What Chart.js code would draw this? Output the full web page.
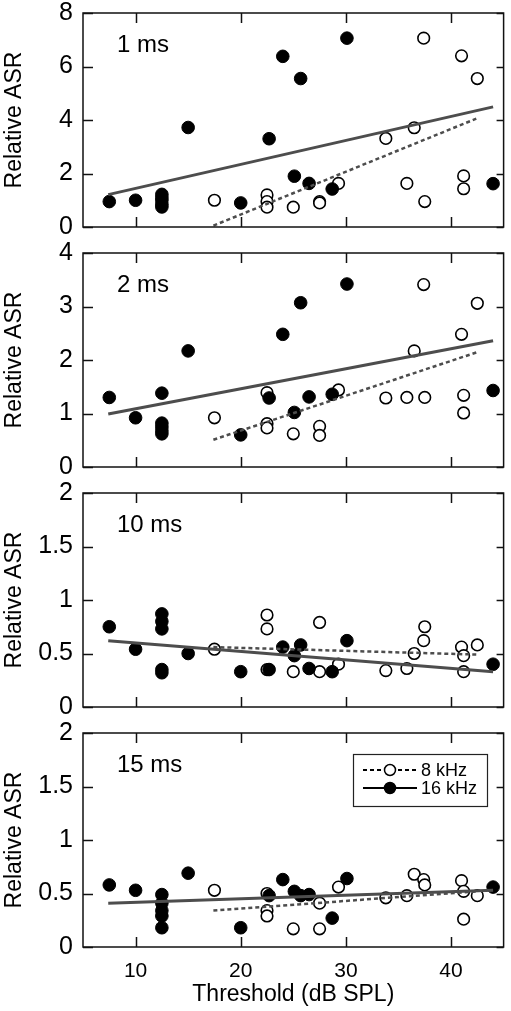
<!DOCTYPE html>
<html>
<head>
<meta charset="utf-8">
<script src="https://cdn.jsdelivr.net/npm/chart.js@4.4.0/dist/chart.umd.min.js"></script>
<style>
  html, body { margin: 0; padding: 0; background: #fff; }
  #wrap { position: relative; width: 511px; height: 1011px; }
  #wrap canvas { position: absolute; left: 0; }
</style>
</head>
<body>
<div id="wrap"></div>
<script>
// x ticks and panel labels
const xTicks = [10, 20, 30, 40];
const panelLabels = ['1 ms', '2 ms', '10 ms', '15 ms'];
const yTicks1ms = [0, 2, 4, 6, 8];
const yTicks2ms = [0, 1, 2, 3, 4];
const yTicks10ms = [0, 0.5, 1, 1.5, 2];
const yTicks15ms = [0, 0.5, 1, 1.5, 2];

// thresholds (dB SPL) of each animal
const thr8 = [17.5, 22.5, 22.5, 22.5, 25, 27.5, 27.5, 29.3, 33.8, 35.8, 36.5, 37.4, 37.5, 41.0, 41.2, 41.2, 42.5];
const thr16 = [7.5, 10, 12.5, 12.5, 12.5, 12.5, 12.5, 15, 20, 22.7, 24, 25.1, 25.7, 26.5, 28.7, 30.1, 44];

// relative ASR, 8 kHz
const asr8_1ms = [1.0, 1.2, 0.95, 0.74, 0.74, 0.95, 0.9, 1.63, 3.31, 1.63, 3.71, 7.06, 0.95, 6.4, 1.91, 1.43, 5.55];
const asr8_2ms = [0.92, 1.39, 0.81, 0.73, 0.62, 0.76, 0.59, 1.44, 1.29, 1.3, 2.17, 3.41, 1.3, 2.48, 1.34, 1.01, 3.06];
const asr8_10ms = [0.54, 0.86, 0.73, 0.35, 0.33, 0.79, 0.33, 0.40, 0.34, 0.36, 0.5, 0.62, 0.75, 0.56, 0.48, 0.33, 0.58];
const asr8_15ms = [0.53, 0.50, 0.34, 0.29, 0.17, 0.41, 0.17, 0.56, 0.46, 0.48, 0.68, 0.63, 0.58, 0.62, 0.52, 0.26, 0.48];

// relative ASR, 16 kHz
const asr16_1ms = [0.95, 1.0, 1.22, 1.1, 1.0, 0.85, 0.75, 3.72, 0.9, 3.3, 6.38, 1.9, 5.55, 1.63, 1.42, 7.06, 1.62];
const asr16_2ms = [1.3, 0.92, 1.38, 0.82, 0.75, 0.68, 0.62, 2.17, 0.6, 1.29, 2.48, 1.02, 3.07, 1.31, 1.36, 3.42, 1.43];
const asr16_10ms = [0.75, 0.54, 0.87, 0.80, 0.73, 0.35, 0.32, 0.50, 0.33, 0.35, 0.56, 0.48, 0.58, 0.36, 0.33, 0.62, 0.40];
const asr16_15ms = [0.58, 0.53, 0.49, 0.41, 0.34, 0.29, 0.18, 0.69, 0.18, 0.48, 0.63, 0.52, 0.48, 0.49, 0.27, 0.64, 0.56];

// regression line end points
const fit8X = [17.4, 42.4];
const fit16X = [7.4, 44];
const fit8_1ms = [0.05, 4.05];
const fit16_1ms = [1.21, 4.49];
const fit8_2ms = [0.51, 2.14];
const fit16_2ms = [0.99, 2.36];
const fit8_10ms = [0.56, 0.49];
const fit16_10ms = [0.62, 0.33];
const fit8_15ms = [0.34, 0.52];
const fit16_15ms = [0.41, 0.53];

const panels = [
  { label: panelLabels[0], yMax: 8, yTicks: yTicks1ms, asr8: asr8_1ms, asr16: asr16_1ms, fit8: fit8_1ms, fit16: fit16_1ms },
  { label: panelLabels[1], yMax: 4, yTicks: yTicks2ms, asr8: asr8_2ms, asr16: asr16_2ms, fit8: fit8_2ms, fit16: fit16_2ms },
  { label: panelLabels[2], yMax: 2, yTicks: yTicks10ms, asr8: asr8_10ms, asr16: asr16_10ms, fit8: fit8_10ms, fit16: fit16_10ms },
  { label: panelLabels[3], yMax: 2, yTicks: yTicks15ms, asr8: asr8_15ms, asr16: asr16_15ms, fit8: fit8_15ms, fit16: fit16_15ms }
];

const FONT = '"Liberation Sans", Arial, Helvetica, sans-serif';
Chart.defaults.font.family = FONT;
Chart.defaults.color = '#000';

const LINE = '#4d4d4d';

// box round the plot with inward ticks, plus the panel label
const framePlugin = {
  id: 'frame',
  afterDatasetsDraw(chart, args, opts) {
    const { ctx, chartArea: a } = chart;
    const x = chart.scales.x, y = chart.scales.y;
    ctx.save();
    ctx.strokeStyle = '#111';
    ctx.lineWidth = 1.5;
    ctx.strokeRect(a.left, a.top, a.right - a.left, a.bottom - a.top);
    ctx.beginPath();
    y.ticks.forEach(t => {
      const py = Math.round(y.getPixelForValue(t.value)) + 0.5;
      ctx.moveTo(a.left, py); ctx.lineTo(a.left + 10, py);
      ctx.moveTo(a.right, py); ctx.lineTo(a.right - 7, py);
    });
    xTicks.forEach(v => {
      const px = Math.round(x.getPixelForValue(v)) + 0.5;
      ctx.moveTo(px, a.bottom); ctx.lineTo(px, a.bottom - 10);
      ctx.moveTo(px, a.top); ctx.lineTo(px, a.top + 10);
    });
    ctx.stroke();
    ctx.fillStyle = '#000';
    ctx.font = '24px ' + FONT;
    ctx.textBaseline = 'alphabetic';
    ctx.fillText(opts.text, a.left + 34, a.top + 39);
    ctx.restore();
  }
};

// legend box inside the last panel
const boxLegend = {
  id: 'boxLegend',
  afterDraw(chart, args, opts) {
    if (!opts.show) return;
    const { ctx, chartArea: a } = chart;
    const ds = chart.data.datasets;
    const bx = a.left + 270, by = a.top + 21, bw = 134, bh = 52;
    ctx.save();
    ctx.strokeStyle = '#222';
    ctx.lineWidth = 1.2;
    ctx.strokeRect(bx + 0.5, by + 0.5, bw, bh);
    const rows = [
      { line: ds[1], pts: ds[3], y: by + 16 },
      { line: ds[0], pts: ds[2], y: by + 34 }
    ];
    rows.forEach(r => {
      ctx.beginPath();
      ctx.setLineDash(r.line.borderDash || []);
      ctx.strokeStyle = '#000';
      ctx.lineWidth = 2;
      ctx.moveTo(bx + 10, r.y); ctx.lineTo(bx + 64, r.y);
      ctx.stroke();
      ctx.setLineDash([]);
      ctx.beginPath();
      ctx.arc(bx + 37, r.y, 5.5, 0, Math.PI * 2);
      ctx.fillStyle = r.pts.backgroundColor;
      ctx.fill();
      ctx.lineWidth = 1.5;
      ctx.strokeStyle = '#000';
      ctx.stroke();
      ctx.fillStyle = '#000';
      ctx.font = '18px ' + FONT;
      ctx.textBaseline = 'middle';
      ctx.fillText(r.pts.label, bx + 68, r.y + 1);
    });
    ctx.restore();
  }
};

const wrap = document.getElementById('wrap');

panels.forEach((p, i) => {
  const last = i === panels.length - 1;
  const canvas = document.createElement('canvas');
  canvas.width = 511;
  canvas.height = last ? 291 : 240;
  canvas.style.top = (i * 240) + 'px';
  wrap.appendChild(canvas);

  new Chart(canvas, {
    type: 'scatter',
    data: {
      datasets: [
        {
          label: '16 kHz fit', type: 'line',
          data: fit16X.map((x, k) => ({ x, y: p.fit16[k] })),
          borderColor: LINE, borderWidth: 3, pointRadius: 0, fill: false, order: 0
        },
        {
          label: '8 kHz fit', type: 'line',
          data: fit8X.map((x, k) => ({ x, y: p.fit8[k] })),
          borderColor: LINE, borderWidth: 2.5, borderDash: [4, 3], pointRadius: 0, fill: false, order: 0
        },
        {
          label: '16 kHz',
          data: thr16.map((x, k) => ({ x, y: p.asr16[k] })),
          backgroundColor: '#000', borderColor: '#000', borderWidth: 1, pointRadius: 6.3, order: 1
        },
        {
          label: '8 kHz',
          data: thr8.map((x, k) => ({ x, y: p.asr8[k] })),
          backgroundColor: '#fff', borderColor: '#000', borderWidth: 1.6, pointRadius: 5.8, order: 2
        }
      ]
    },
    options: {
      responsive: false,
      animation: false,
      devicePixelRatio: 1,
      layout: { padding: { top: 13, right: 4, bottom: 0, left: 0 } },
      plugins: {
        legend: { display: false },
        tooltip: { enabled: false },
        frame: { text: p.label },
        boxLegend: { show: last }
      },
      scales: {
        x: {
          type: 'linear', min: 5, max: 45,
          afterBuildTicks: s => { s.ticks = xTicks.map(v => ({ value: v })); },
          afterFit: s => {
            s.height = last ? 64 : 13;
            s.paddingLeft = 0; s.paddingRight = 0;
          },
          grid: { display: false, drawTicks: false },
          border: { display: false },
          ticks: { display: last, font: { size: 21 }, padding: 12, maxRotation: 0 },
          title: { display: last, text: 'Threshold (dB SPL)', font: { size: 23 }, padding: { top: 0, bottom: 3 } }
        },
        y: {
          type: 'linear', min: 0, max: p.yMax,
          afterBuildTicks: s => { s.ticks = p.yTicks.map(v => ({ value: v })); },
          afterFit: s => {
            s.width = 83;
            s.paddingTop = 0; s.paddingBottom = 0;
          },
          grid: { display: false, drawTicks: false },
          border: { display: false },
          ticks: { font: { size: 25 }, padding: 10, callback: v => String(v) },
          title: {
            display: true, text: 'Relative ASR',
            font: { size: 23 },
            padding: { top: 1, bottom: 0 }
          }
        }
      }
    },
    plugins: [framePlugin, boxLegend]
  });
});
</script>
</body>
</html>
